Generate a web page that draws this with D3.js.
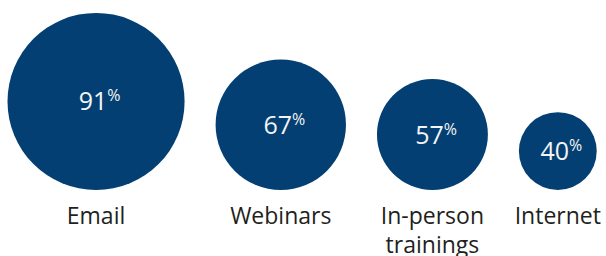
<!DOCTYPE html>
<html>
<head>
<meta charset="utf-8">
<script src="https://cdn.jsdelivr.net/npm/d3@7"></script>
<style>
  body { margin: 0; background: #fff; }
  svg { display: block; }
</style>
</head>
<body>
<div class="canvas"></div>
<script>
const categories = ["Email", "Webinars", "In-person trainings", "Internet"];
const values = [91, 67, 57, 40];

const dimensions = { width: 606, height: 256, left: 7.5, gap: 31, bottom: 190 };

const svg = d3
  .select(".canvas")
  .append("svg")
  .attr("width", dimensions.width)
  .attr("height", dimensions.height);

const radius = d3.scaleLinear().domain([0, 100]).range([0, 97.3]);

// lay circles side by side with a fixed gap, bottoms aligned
let x = dimensions.left;
const data = categories.map((name, i) => {
  const r = radius(values[i]);
  const d = { name, value: values[i], r, cx: x + r, cy: dimensions.bottom - r };
  x += 2 * r + dimensions.gap;
  return d;
});

const font = "'Open Sans', 'Noto Sans', sans-serif";

const groups = svg
  .selectAll("g.bubble")
  .data(data)
  .enter()
  .append("g")
  .attr("class", "bubble");

groups
  .append("circle")
  .attr("cx", (d) => d.cx)
  .attr("cy", (d) => d.cy)
  .attr("r", (d) => d.r)
  .attr("fill", "#033f72");

const num = groups
  .append("text")
  .attr("x", (d) => d.cx - 3)
  .attr("y", (d) => d.cy + 9)
  .attr("text-anchor", "middle")
  .attr("font-family", font)
  .attr("font-size", 25)
  .attr("fill", "#f4f4f4");

num.append("tspan").text((d) => d.value);

// percent sign hangs to the right, raised
num
  .append("tspan")
  .attr("font-size", 16)
  .attr("dy", -9)
  .text("%");

// the "%" should not shift the number off centre
num.each(function () {
  const t = d3.select(this);
  const pct = t.select("tspan:last-child").node().getComputedTextLength();
  t.attr("x", +t.attr("x") + pct / 2);
});

const labels = groups
  .append("text")
  .attr("text-anchor", "middle")
  .attr("font-family", font)
  .attr("font-size", 23)
  .attr("fill", "#231f20");

labels.each(function (d) {
  const text = d3.select(this);
  const maxWidth = 2 * d.r + dimensions.gap;
  const words = d.name.split(" ");
  let line = [];
  let lineNo = 0;
  let tspan = text.append("tspan").attr("x", d.cx).attr("y", 224);
  words.forEach((w) => {
    line.push(w);
    tspan.text(line.join(" "));
    if (tspan.node().getComputedTextLength() > maxWidth && line.length > 1) {
      line.pop();
      tspan.text(line.join(" "));
      line = [w];
      lineNo += 1;
      tspan = text
        .append("tspan")
        .attr("x", d.cx)
        .attr("y", 224 + lineNo * 29)
        .text(w);
    }
  });
});
</script>
</body>
</html>
